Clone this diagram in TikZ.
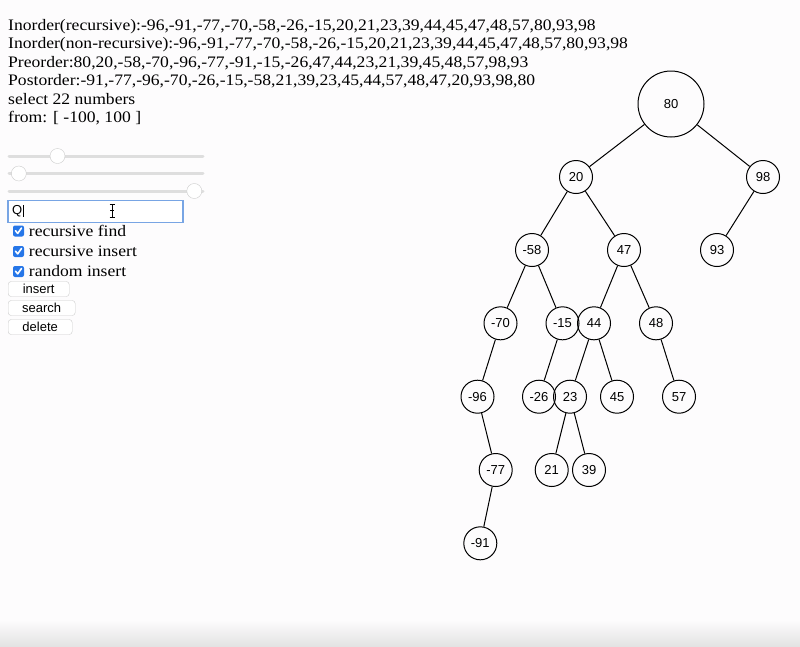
\documentclass[tikz,border=0pt]{standalone}
\usepackage{fontspec}
\setmainfont{Liberation Serif}[FakeStretch=1.1]
\setsansfont{Liberation Sans}
\usetikzlibrary{positioning}
\definecolor{pagebg}{RGB}{253,252,253}
\definecolor{focusblue}{RGB}{120,165,228}
\definecolor{checkblue}{RGB}{38,118,232}
\definecolor{trackgray}{RGB}{222,222,222}
\tikzset{
key/.style={draw, circle, line width=1pt, minimum size=33pt, inner sep=0pt,
  font=\sffamily\fontsize{13}{13}\selectfont},
rootkey/.style={key, minimum size=66pt},
infoline/.style={anchor=base west, inner sep=0pt, font=\fontsize{16}{18}\selectfont},
knob/.style={circle, draw=gray!40, fill=white, minimum size=15pt, inner sep=0pt},
tickbox/.style={fill=checkblue, rounded corners=2pt, minimum size=11pt, inner sep=0pt},
option/.style={inner sep=0pt, font=\fontsize{16}{18}\selectfont},
button/.style={draw=gray!40, fill=white, rounded corners=3pt, anchor=west,
  minimum height=15pt, inner sep=0pt, font=\sffamily\fontsize{13}{13}\selectfont},
}

\begin{document}
\begin{tikzpicture}[x=1pt, y=-1pt]
\useasboundingbox (0,0) rectangle (800,646);
\fill[pagebg] (0,0) rectangle (800,646);
\shade[top color=pagebg, bottom color=gray!22] (0,620) rectangle (800,646);

% traversals
\node[infoline] (inrec) at (8,30.5) {Inorder(recursive):-96,-91,-77,-70,-58,-26,-15,20,21,23,39,44,45,47,48,57,80,93,98};
\node[infoline] (innon) at (8,48.9) {Inorder(non-recursive):-96,-91,-77,-70,-58,-26,-15,20,21,23,39,44,45,47,48,57,80,93,98};
\node[infoline] (pre) at (8,67.3) {Preorder:80,20,-58,-70,-96,-77,-91,-15,-26,47,44,23,21,39,45,48,57,98,93};
\node[infoline] (post) at (8,85.7) {Postorder:-91,-77,-96,-70,-26,-15,-58,21,39,23,45,44,57,48,47,20,93,98,80};
\node[infoline] (count) at (8,104.1) {select 22 numbers};
\node[infoline] (range) at (8,122.5) {from: [ -100, 100 ]};

% sliders
\foreach \i/\y/\k in {1/156/57.5, 2/173.5/18.8, 3/191/194.3} {
  \coordinate (track\i w) at (9,\y);
  \coordinate (track\i e) at (203,\y);
  \draw[trackgray, line width=3pt, line cap=round] (track\i w) -- (track\i e);
  \node[knob] (knob\i) at (\k,\y) {};
}

% query box
\node[draw=focusblue, line width=1.5pt, fill=white, anchor=north west,
  minimum width=175pt, minimum height=22pt, inner sep=0pt] (query) at (7,199.5) {};
\node[anchor=west, inner sep=0pt, font=\sffamily\fontsize{13}{13}\selectfont]
  (qtext) at ([xshift=5pt]query.west) {Q};
\draw[line width=0.8pt] ([xshift=1pt]qtext.north east) -- ([xshift=1pt]qtext.south east);
\coordinate (beam) at (112,210.5);
\draw[line width=0.9pt] ([yshift=-6pt]beam) -- ([yshift=6pt]beam)
  ([xshift=-2.5pt,yshift=-6.5pt]beam) -- ([xshift=2.5pt,yshift=-6.5pt]beam)
  ([xshift=-2.5pt,yshift=6.5pt]beam) -- ([xshift=2.5pt,yshift=6.5pt]beam)
  ([xshift=-2pt]beam) -- ([xshift=2pt]beam);

% options
\foreach \n/\y/\t in {find/231/recursive find, rins/251.5/recursive insert, rand/271.5/random insert} {
  \node[tickbox] (cb\n) at (18.5,\y) {};
  \draw[white, line width=1.6pt, line cap=round, line join=round]
    ([xshift=-3pt,yshift=0.3pt]cb\n.center) -- ([xshift=-0.8pt,yshift=-2.4pt]cb\n.center) -- ([xshift=3pt,yshift=3pt]cb\n.center);
  \node[option, right=4.5pt of cb\n] (lab\n) {\t};
}

% buttons
\node[button, minimum width=61pt] (insert) at (8,289) {insert};
\node[button, minimum width=67pt] (search) at (8,308) {search};
\node[button, minimum width=64pt] (delete) at (8,327) {delete};

% tree
\node[rootkey] (k80) at (671,104) {80};
\node[key] (k20) at (576,177) {20};
\node[key] (k98) at (763,177) {98};
\node[key] (km58) at (532,250) {-58};
\node[key] (k47) at (624,250) {47};
\node[key] (k93) at (717,250) {93};
\node[key] (km70) at (500.5,323.3) {-70};
\node[key] (km15) at (562.5,323.3) {-15};
\node[key] (k44) at (594,323.3) {44};
\node[key] (k48) at (656,323.3) {48};
\node[key] (km96) at (477.5,396.7) {-96};
\node[key] (km26) at (539,396.7) {-26};
\node[key] (k23) at (570,396.7) {23};
\node[key] (k45) at (617,396.7) {45};
\node[key] (k57) at (679,396.7) {57};
\node[key] (km77) at (495.7,470) {-77};
\node[key] (k21) at (551.7,470) {21};
\node[key] (k39) at (589,470) {39};
\node[key] (km91) at (480.3,543.3) {-91};
\draw[line width=1pt]
(k80) edge (k20)
(k80) edge (k98)
(k20) edge (km58)
(k20) edge (k47)
(k98) edge (k93)
(km58) edge (km70)
(km58) edge (km15)
(k47) edge (k44)
(k47) edge (k48)
(km70) edge (km96)
(km15) edge (km26)
(k44) edge (k23)
(k44) edge (k45)
(k48) edge (k57)
(km96) edge (km77)
(k23) edge (k21)
(k23) edge (k39)
(km77) edge (km91)
;
\end{tikzpicture}
\end{document}
